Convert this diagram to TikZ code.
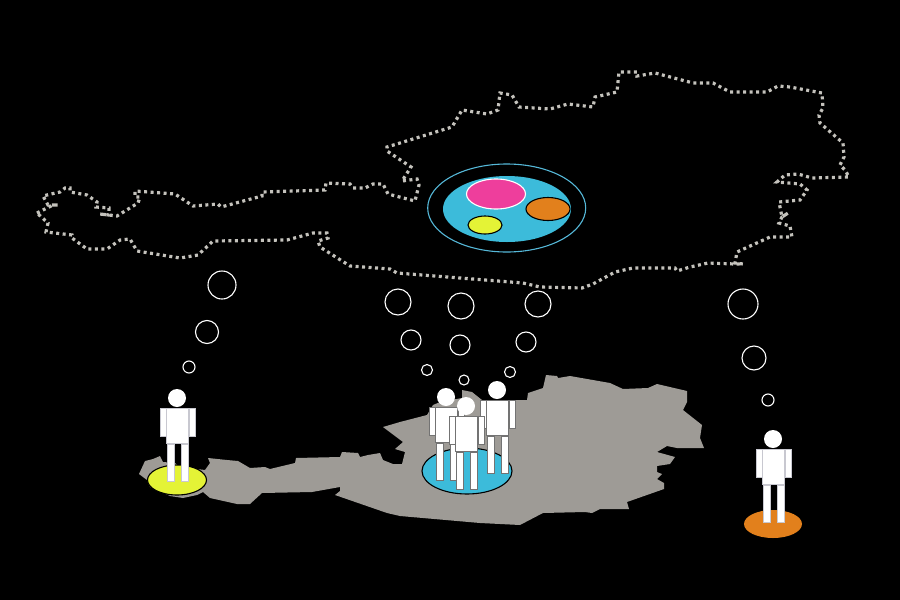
\documentclass[tikz,border=0pt]{standalone}
\definecolor{mapgray}{HTML}{9E9B96}
\definecolor{dotgray}{HTML}{C4C2BC}
\definecolor{skyblue}{HTML}{3CBBDA}
\definecolor{ringblue}{HTML}{55B8D8}
\definecolor{hotpink}{HTML}{EE3E9C}
\definecolor{tangerine}{HTML}{E2801C}
\definecolor{limeyellow}{HTML}{E4F336}
\definecolor{personedge}{HTML}{C8C8D0}
\tikzset{
  border dots/.style={draw=dotgray,line width=3.2pt,dash pattern=on 3pt off 3.5pt},
  bubble/.style={draw=white,line width=1.1pt},
  body part/.style={fill=white,draw=personedge,line width=0.5pt},
  person/.pic={
    \path[body part] (-17,10) rectangle (-11,38);
    \path[body part] (12,10) rectangle (18,38);
    \path[body part] (-10,46) rectangle (-3,83);
    \path[body part] (4,46) rectangle (11,83);
    \path[body part] (-10.5,10) rectangle (11.5,45);
    \fill[white] (0,0) circle[radius=9pt];
  }
}
\begin{document}
\begin{tikzpicture}[x=1pt,y=-1pt]
\useasboundingbox[fill=black] (0,0) rectangle (900,600);
% dotted outline
\path[border dots]
 (37,213) -- (53,205) -- (58,205) -- (48,205) -- (43,196) -- (51,194) -- (60,192) -- (65,188) -- (70,188) -- (70,192)
 -- (87,195) -- (97,202) -- (96,207) -- (109,208) -- (109,215) -- (100,214) -- (109,215) -- (117,216)
 -- (138,203) -- (140,197) -- (135,197) -- (135,191) -- (175,194) -- (193,206) -- (218,204) -- (221,207)
 -- (262,196) -- (262,192) -- (325,190) -- (326,183) -- (350,184) -- (353,188) -- (365,188) -- (373,184) -- (383,184)
 -- (388,194) -- (415,201) -- (419,185) -- (417,179) -- (402,181) -- (411,167) -- (387,151) -- (387,147)
 -- (452,127) -- (462,110) -- (487,114) -- (498,110) -- (500,93) -- (512,95) -- (519,107) -- (550,109)
 -- (568,104) -- (593,107) -- (595,97) -- (617,92) -- (619,72) -- (637,72) -- (637,76) -- (655,73)
 -- (693,83) -- (713,83) -- (730,92) -- (767,92) -- (778,86) -- (790,87) -- (822,93) -- (823,108)
 -- (819,115) -- (820,123) -- (843,143) -- (844,157) -- (840,165) -- (845,170) -- (849,177) -- (812,178)
 -- (798,174) -- (785,175) -- (777,182) -- (800,184) -- (807,190) -- (800,200) -- (779,202) -- (782,217)
 -- (788,213) -- (782,217) -- (779,223) -- (790,226) -- (792,237) -- (770,237) -- (737,252) -- (735,263)
 -- (743,264) -- (735,264) -- (708,263) -- (690,267) -- (677,271) -- (675,268) -- (633,268) -- (615,272)
 -- (593,284) -- (582,288) -- (540,287) -- (523,283) -- (397,273) -- (390,269) -- (350,266) -- (320,247)
 -- (318,241) -- (328,238) -- (327,233) -- (313,233) -- (287,240) -- (213,241) -- (198,255) -- (180,258)
 -- (137,251) -- (130,239) -- (120,240) -- (107,249) -- (87,249) -- (72,238) -- (72,235) -- (46,232)
 -- (48,223) -- cycle;
% filled map
\fill[mapgray]
 (139,474) -- (145,461) -- (153,459) -- (160,456) -- (163,462) -- (175,463) -- (180,467) -- (205,470)
 -- (210,463) -- (208,458) -- (227,460) -- (238,461) -- (250,468) -- (265,467) -- (270,469) -- (295,463)
 -- (296,458) -- (340,457) -- (342,452) -- (358,453) -- (360,457) -- (368,455) -- (380,453) -- (383,460)
 -- (393,464) -- (402,464) -- (405,452) -- (395,449) -- (403,442) -- (383,427) -- (400,422) -- (427,415)
 -- (433,405) -- (440,402) -- (462,398) -- (462,390) -- (472,392) -- (482,400) -- (527,400) -- (528,393)
 -- (543,388) -- (546,375) -- (557,376) -- (558,378) -- (570,376) -- (610,383) -- (623,389) -- (648,388)
 -- (657,384) -- (687,391) -- (687,402) -- (683,410) -- (702,425) -- (700,438) -- (704,448) -- (677,448)
 -- (667,446) -- (657,452) -- (675,457) -- (670,464) -- (657,466) -- (657,472) -- (662,474) -- (657,479)
 -- (664,483) -- (664,489) -- (627,502) -- (629,509) -- (600,509) -- (592,513) -- (585,512) -- (543,513)
 -- (520,525) -- (480,523) -- (400,516) -- (387,513) -- (335,495) -- (340,491) -- (340,487) -- (312,492)
 -- (262,493) -- (250,504) -- (237,504) -- (210,498) -- (203,492) -- (197,495) -- (183,498) -- (170,496)
 -- (150,487) -- (147,480) -- cycle;
% central ellipses
\draw[ringblue,line width=1.1pt] (506.7,208) ellipse[x radius=79pt,y radius=44pt];
\fill[skyblue] (507,209) ellipse[x radius=64pt,y radius=33pt];
\draw[white,line width=1.1pt,fill=hotpink] (496,194) ellipse[x radius=29.5pt,y radius=15pt];
\draw[black,line width=1.1pt,fill=tangerine] (548,209) ellipse[x radius=22pt,y radius=11.5pt];
\draw[black,line width=1.1pt,fill=limeyellow] (485,225) ellipse[x radius=17pt,y radius=9pt];
% floor ellipses
\draw[black,line width=1.1pt,fill=limeyellow] (177,480) ellipse[x radius=29.5pt,y radius=15pt];
\draw[black,line width=1.1pt,fill=skyblue] (467,471) ellipse[x radius=45pt,y radius=23pt];
\fill[tangerine] (773,524) ellipse[x radius=29pt,y radius=14pt];
% bubbles
\draw[bubble] (222,285) circle[radius=14pt] (207,332) circle[radius=11.5pt] (189,367) circle[radius=6pt];
\draw[bubble] (398,302) circle[radius=13pt] (411,340) circle[radius=10pt] (427,370) circle[radius=5.5pt];
\draw[bubble] (461,306) circle[radius=13pt] (460,345) circle[radius=10pt] (464,380) circle[radius=5pt];
\draw[bubble] (538,304) circle[radius=13pt] (526,342) circle[radius=10pt] (510,372) circle[radius=5.5pt];
\draw[bubble] (743,304) circle[radius=15pt] (754,358) circle[radius=12pt] (768,400) circle[radius=6pt];
% people
\pic at (177,398) {person};
\begin{scope}
\colorlet{personedge}{black!55}
\pic at (497,390) {person};
\pic at (446,397) {person};
\pic at (466,406) {person};
\end{scope}
\pic at (773,439) {person};
\end{tikzpicture}
\end{document}
